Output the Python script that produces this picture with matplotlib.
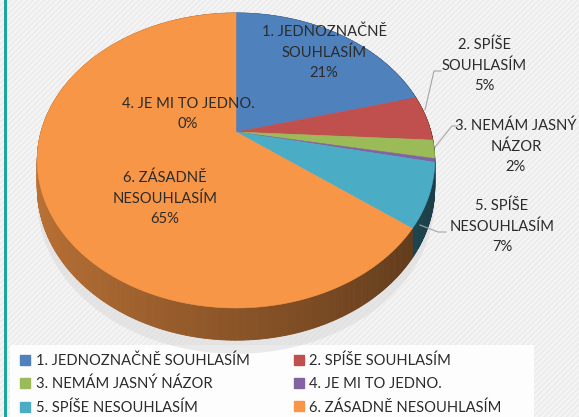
import numpy as np
import matplotlib
matplotlib.use("Agg")
import matplotlib.pyplot as plt
from matplotlib.patches import Polygon, Rectangle
from matplotlib.lines import Line2D
from matplotlib.colors import to_rgb

plt.rcParams['font.family'] = ['Lato', 'DejaVu Sans']

# ---- data ----
categories = ["1. JEDNOZNAČNĚ SOUHLASÍM", "2. SPÍŠE SOUHLASÍM", "3. NEMÁM JASNÝ NÁZOR",
              "4. JE MI TO JEDNO.", "5. SPÍŠE NESOUHLASÍM", "6. ZÁSADNĚ NESOUHLASÍM"]
label_lines = ["1. JEDNOZNAČNĚ\nSOUHLASÍM", "2. SPÍŠE\nSOUHLASÍM", "3. NEMÁM JASNÝ\nNÁZOR",
               "4. JE MI TO JEDNO.", "5. SPÍŠE\nNESOUHLASÍM", "6. ZÁSADNĚ\nNESOUHLASÍM"]
values = [21, 5, 2, 0.4, 7, 65]
colors = ["#4F81BD", "#C0504D", "#9BBB59", "#8064A2", "#4BACC6", "#F79646"]

# ---- layout (pixel space) ----
W, H = 579, 417
cx, cy = 236, 132      # apex of the pie on screen
A, B, K = 195, 142, 0.193   # perspective projection of the unit disc
D = 26.0               # thickness of the pie
label_pos = [(324, 52), (484, 65), (516, 146), (188, 114), (502, 226), (165, 198)]
leaders = {1: [(441, 71), (434, 71), (425, 110)],
           2: [(458, 126), (452, 126), (435, 147)],
           4: [(446, 232), (438, 232), (420, 225)]}

fig = plt.figure(figsize=(W / 100, H / 100), dpi=100)
ax = fig.add_axes([0, 0, 1, 1])
ax.set_xlim(0, W)
ax.set_ylim(H, 0)
ax.axis('off')

# background
ax.add_patch(Rectangle((0, 0), W, H, facecolor="#F4F4F4", edgecolor="none", zorder=0))
ax.add_patch(Rectangle((0, 0), W, H, facecolor="none", edgecolor="#EAEAEA", hatch="//////",
                       linewidth=0, zorder=0.1))
ax.add_patch(Rectangle((4, 0), 2.5, H, facecolor="#1BA89A", edgecolor="none", zorder=5))
ax.add_patch(Rectangle((10, 345), 524, 80, facecolor="#FDFDFD", edgecolor="none", zorder=0.5))


def proj(t_deg, z=0.0):
    t = np.radians(t_deg)
    u, v = np.cos(t), np.sin(t)
    w = 1 + K * v
    return cx + A * u / w, cy - B * v / w + D * z / w


# angles from matplotlib's own pie layout
aux = fig.add_axes([0, 0, 0.01, 0.01])
wedges, _ = aux.pie(values, startangle=90, counterclock=False)
thetas = [(w_.theta1, w_.theta2) for w_ in wedges]
aux.remove()

# shadow under the pie
sx, sy = proj(np.linspace(0, 360, 200), 1.3)
ax.add_patch(Polygon(np.column_stack([sx, sy + 4]), closed=True, facecolor="#D8D8D8",
                     edgecolor="none", alpha=0.5, zorder=0.8))

# side of the pie
for (t1, t2), col in zip(thetas, colors):
    base = np.array(to_rgb(col))
    ts = np.linspace(t1, t2, max(3, int((t2 - t1) * 2)))
    for a0, a1 in zip(ts[:-1], ts[1:]):
        x0, y0 = proj(a0)
        x1, y1 = proj(a1)
        x0b, y0b = proj(a0, 1)
        x1b, y1b = proj(a1, 1)
        c = np.cos(np.radians((a0 + a1) / 2))
        f = 0.56 - 0.2 * c
        ax.add_patch(Polygon([(x0, y0), (x1, y1), (x1b, y1b), (x0b, y0b)], closed=True,
                             facecolor=base * f, edgecolor=base * f, linewidth=0.6, zorder=1))

# top face of the pie
for (t1, t2), col in zip(thetas, colors):
    ts = np.linspace(t1, t2, max(4, int((t2 - t1) * 2)))
    xs, ys = proj(ts)
    pts = [(cx, cy)] + list(zip(xs, ys))
    ax.add_patch(Polygon(pts, closed=True, facecolor=col, edgecolor=col, linewidth=0.4, zorder=2))

# labels
total = sum(values)
for i, (txt, v) in enumerate(zip(label_lines, values)):
    x, y = label_pos[i]
    ax.text(x, y, f"{txt}\n{v / total * 100:.0f}%", ha="center", va="center",
            fontsize=10.6, color="#2B2B2B", linespacing=1.55, zorder=6)

for i, pts in leaders.items():
    xs, ys = zip(*pts)
    ax.plot(xs, ys, color="#A6A6A6", lw=0.8, zorder=3)

# legend
order = [0, 2, 4, 1, 3, 5]
handles = [Line2D([], [], marker="s", linestyle="none", markersize=7,
                  markerfacecolor=colors[i], markeredgecolor=colors[i]) for i in order]
leg = fig.legend(handles, [categories[i] for i in order], ncol=2, loc="upper left",
                 bbox_to_anchor=(10 / W, 1 - 343 / H), frameon=False, fontsize=10.6,
                 handlelength=0.7, handletextpad=0.35, columnspacing=3.0, labelspacing=0.62,
                 borderpad=0.2, labelcolor="#2B2B2B")

fig.savefig("out.png", dpi=100)
